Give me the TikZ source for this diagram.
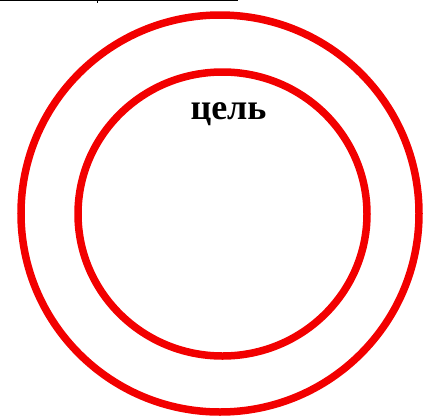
\documentclass[tikz,border=0pt]{standalone}
\usepackage{fontspec}
\setmainfont{Liberation Serif}
\begin{document}
\begin{tikzpicture}[x=1pt,y=-1pt,
  ring/.style={draw=red!95!black, line width=7.5pt},
  rule/.style={draw=black, line width=1pt}]
\useasboundingbox (0,0) rectangle (423,416);
\draw[ring] (220,213.5) ellipse [x radius=199, y radius=198.5];
\draw[ring] (222.5,214) ellipse [x radius=144.5, y radius=142];
\coordinate (l0) at (0,0.5);
\coordinate (l1) at (238,0.5);
\draw[rule] (l0) -- (l1);
\coordinate (t0) at (97,0.5);
\coordinate (t1) at (97,3);
\draw[black, line width=0.8pt] (t0) -- (t1);
\node[anchor=base, inner sep=0pt, font=\fontsize{36}{40}\selectfont\bfseries] (goal) at (228.5,119.3) {цель};
\end{tikzpicture}
\end{document}
